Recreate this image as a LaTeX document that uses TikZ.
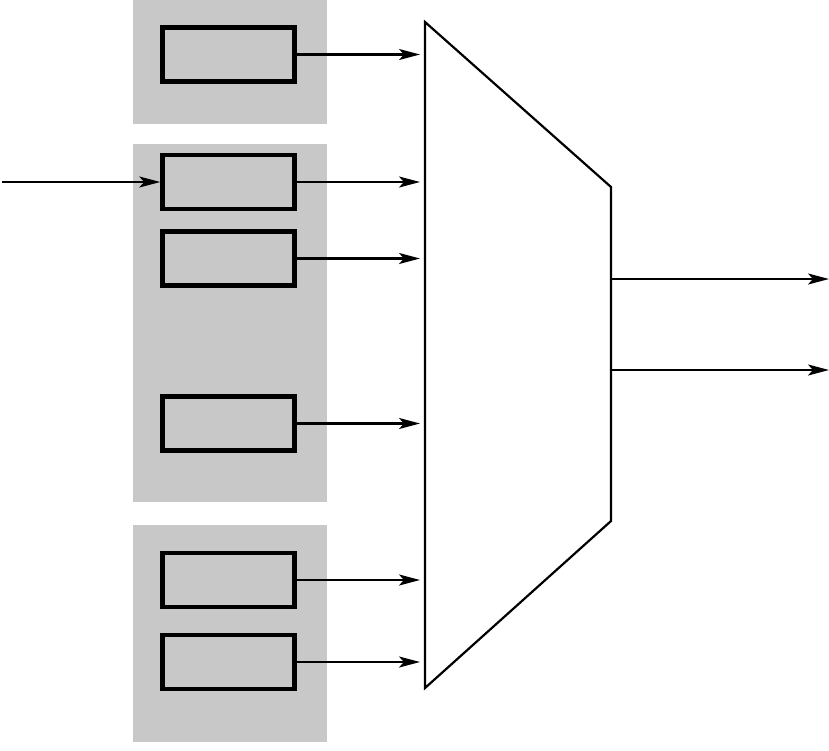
\documentclass[tikz,border=0pt]{standalone}
\usetikzlibrary{arrows.meta}
\definecolor{panelgray}{HTML}{C8C8C8}
\begin{document}
\begin{tikzpicture}[x=1pt,y=-1pt,
  panel/.style={fill=panelgray,draw=none},
  reg/.style={draw=black,fill=panelgray,line width=4.5pt,minimum width=132pt,minimum height=54pt,inner sep=0pt,anchor=center},
  conn/.style={line width=2.2pt,-{Stealth[length=21pt,width=11pt,inset=5pt]}},
  mux/.style={draw=black,line width=2.2pt,line join=miter}]
\useasboundingbox (0,0) rectangle (829,750);
% panels
\fill[panel] (133,0) rectangle (327,124);
\fill[panel] (133,144) rectangle (327,502);
\fill[panel] (133,525) rectangle (327,742);
% registers
\node[reg] (r1) at (228.5,54.5) {};
\node[reg] (r2) at (228.5,182) {};
\node[reg] (r3) at (228.5,258.5) {};
\node[reg] (r4) at (228.5,423.5) {};
\node[reg] (r5) at (228.5,580) {};
\node[reg] (r6) at (228.5,662) {};
% multiplexer
\coordinate (t1) at (425,22);
\coordinate (t2) at (611,187);
\coordinate (t3) at (611,521);
\coordinate (t4) at (425,688);
\draw[mux] (t1) -- (t2) -- (t3) -- (t4) -- cycle;
% input points on mux
\coordinate (m1) at (425,54.5);
\coordinate (m2) at (425,182);
\coordinate (m3) at (425,258.5);
\coordinate (m4) at (425,423.5);
\coordinate (m5) at (425,580);
\coordinate (m6) at (425,662);
\coordinate (o1s) at (611,279);
\coordinate (o1e) at (829,279);
\coordinate (o2s) at (611,370);
\coordinate (o2e) at (829,370);
\coordinate (in) at (2,182);
% connectors
\foreach \i in {1,...,6} {
  \draw[conn,shorten >=5pt] (r\i.east) -- (m\i);
}
\draw[conn] (in) -- (r2.west);
\draw[conn] (o1s) -- (o1e);
\draw[conn] (o2s) -- (o2e);
\end{tikzpicture}
\end{document}
